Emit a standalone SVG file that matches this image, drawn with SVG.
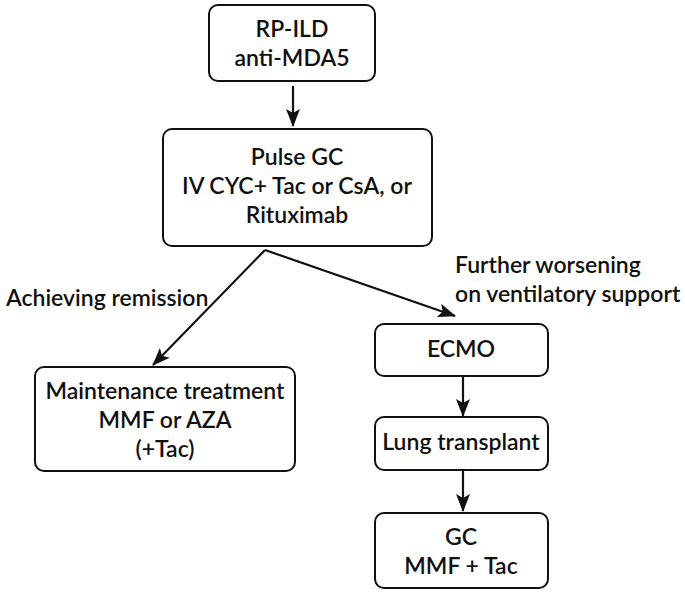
<svg xmlns="http://www.w3.org/2000/svg" width="685" height="593" viewBox="0 0 685 593">
<defs>
<style>
.box{fill:#fff;stroke:#111;stroke-width:2}
.t{font-family:Lato,"Noto Sans","Liberation Sans",sans-serif;font-size:23px;font-weight:600;fill:#111;text-anchor:middle}
.l{font-family:Lato,"Noto Sans","Liberation Sans",sans-serif;font-size:23px;font-weight:600;fill:#111}
.c{fill:none;stroke:#111;stroke-width:2.2}
</style>
<marker id="ah" viewBox="0 0 18 14" refX="17" refY="7" markerWidth="18" markerHeight="14" markerUnits="userSpaceOnUse" orient="auto">
<path d="M0,0 L18,7 L0,14 L4,7 Z" fill="#111"/>
</marker>
</defs>
<rect width="685" height="593" fill="#fff"/>
<g id="connectors">
<line class="c" x1="293" y1="86" x2="293" y2="126" marker-end="url(#ah)"/>
<line class="c" x1="265" y1="250" x2="153" y2="365" marker-end="url(#ah)"/>
<line class="c" x1="265" y1="250" x2="455" y2="316" marker-end="url(#ah)"/>
<line class="c" x1="463" y1="377" x2="463" y2="416" marker-end="url(#ah)"/>
<line class="c" x1="463" y1="471" x2="463" y2="511" marker-end="url(#ah)"/>
</g>
<g id="n1">
<rect class="box" x="209" y="5" width="166" height="76" rx="9"/>
<text class="t" x="292" y="37">RP-ILD</text>
<text class="t" x="292" y="66">anti-MDA5</text>
</g>
<g id="n2">
<rect class="box" x="163" y="129" width="269" height="117" rx="9"/>
<text class="t" x="297" y="165">Pulse GC</text>
<text class="t" x="297" y="194">IV CYC+ Tac or CsA, or</text>
<text class="t" x="297" y="223">Rituximab</text>
</g>
<g id="n3">
<rect class="box" x="35" y="367" width="260" height="104" rx="9"/>
<text class="t" x="165" y="399">Maintenance treatment</text>
<text class="t" x="165" y="428">MMF or AZA</text>
<text class="t" x="165" y="457">(+Tac)</text>
</g>
<g id="n4">
<rect class="box" x="375" y="324" width="173" height="52" rx="9"/>
<text class="t" x="461" y="357">ECMO</text>
</g>
<g id="n5">
<rect class="box" x="375" y="417" width="173" height="53" rx="9"/>
<text class="t" x="461" y="450">Lung transplant</text>
</g>
<g id="n6">
<rect class="box" x="375" y="513" width="173" height="75" rx="9"/>
<text class="t" x="461" y="545">GC</text>
<text class="t" x="461" y="574">MMF + Tac</text>
</g>
<g id="labels">
<text class="l" x="6" y="306">Achieving remission</text>
<text class="l" x="455" y="273">Further worsening</text>
<text class="l" x="455" y="302">on ventilatory support</text>
</g>
</svg>
